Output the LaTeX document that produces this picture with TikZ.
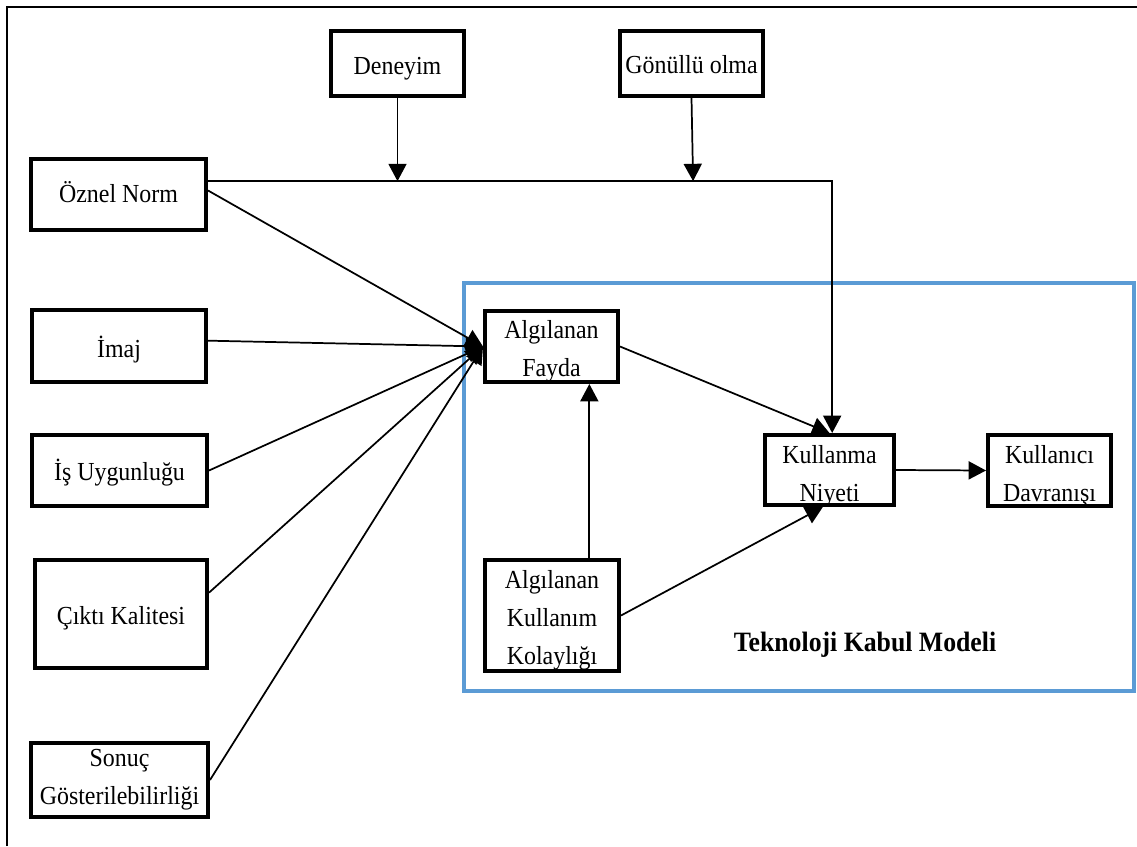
\documentclass[tikz,border=0pt]{standalone}
\usepackage{fontspec}
\setmainfont{Liberation Serif}[FakeStretch=0.92]
\usetikzlibrary{arrows.meta,calc}
\definecolor{tkmblue}{HTML}{5B9BD5}
\begin{document}
\begin{tikzpicture}[x=0.75pt,y=-0.75pt,
  kutu/.style={draw, line width=3pt, inner sep=0pt},
  yazi/.style={inner sep=0pt, align=center, font=\fontsize{19.5}{28.5}\selectfont},
  tekyazi/.style={yazi, text height=18pt, text depth=3.5pt},
  arr/.style={line width=1.3pt, -{Triangle[length=13pt,width=13.5pt]}}]
\useasboundingbox (0,0) rectangle (1137,846);

% outer frame (left and top edges)
\draw[line width=1.5pt] (7,846) -- (7,7) -- (1137,7);

% Technology Acceptance Model frame
\draw[tkmblue, line width=3pt] (464,283) rectangle (1134,691);
\node[font=\fontsize{21}{24}\selectfont\bfseries] (tkm) at (865,645) {Teknoloji Kabul Modeli};

% moderators
\node[kutu, minimum width=99.75pt, minimum height=48.75pt,
  label={[tekyazi, yshift=-1pt]center:Deneyim}] (deneyim) at (397.5,63.5) {};
\node[kutu, minimum width=107.25pt, minimum height=48.75pt,
  label={[tekyazi]center:Gönüllü olma}] (gonullu) at (691.5,63.5) {};

% external variables
\node[kutu, minimum width=131.25pt, minimum height=53.25pt,
  label={[tekyazi, yshift=1pt]center:Öznel Norm}] (oznel) at (118.5,194.5) {};
\node[kutu, minimum width=130.5pt, minimum height=54pt,
  label={[tekyazi, yshift=-1.5pt]center:İmaj}] (imaj) at (119,346) {};
\node[kutu, minimum width=131.25pt, minimum height=53.25pt,
  label={[tekyazi]center:İş Uygunluğu}] (is) at (119.5,470.5) {};
\node[kutu, minimum width=129pt, minimum height=81pt,
  label={[tekyazi, yshift=-0.75pt]center:Çıktı Kalitesi}] (cikti) at (121,614) {};
\node[kutu, minimum width=132.75pt, minimum height=55.5pt,
  label={[yazi]center:{Sonuç\\Gösterilebilirliği}}] (sonuc) at (119.5,780) {};

% TAM constructs
\node[kutu, minimum width=99.75pt, minimum height=53.25pt,
  label={[yazi, yshift=-3.5pt]center:{Algılanan\\Fayda}}] (fayda) at (551.5,346.5) {};
\node[kutu, minimum width=100.5pt, minimum height=83.25pt,
  label={[yazi, yshift=-3.5pt]center:{Algılanan\\Kullanım\\Kolaylığı}}] (kolay) at (552,615.5) {};
\node[kutu, minimum width=96.75pt, minimum height=52.5pt,
  label={[yazi, yshift=-4.5pt]center:{Kullanma\\Niyeti}}] (niyet) at (829.5,470) {};
\node[kutu, minimum width=92.25pt, minimum height=53.25pt,
  label={[yazi, yshift=-4.5pt]center:{Kullanıcı\\Davranışı}}] (davranis) at (1049.5,470.5) {};

% subjective norm -> intention, moderated by experience and voluntariness
\coordinate (hl) at ([yshift=10pt]oznel.east);
\draw[arr] (hl) -| ([xshift=2pt]niyet.north);
\draw[arr] (deneyim.south) -- (deneyim.south |- hl);
\draw[arr] (gonullu.south) -- ([xshift=1.2pt]gonullu.south |- hl);

% determinants of perceived usefulness
\draw[arr] ([yshift=3pt]oznel.east) -- (fayda.west);
\draw[arr] ([yshift=4pt]imaj.east) -- (fayda.west);
\draw[arr] (is.east) -- (fayda.west);
\draw[arr] ([yshift=16pt]cikti.east) -- (fayda.west);
\draw[arr] (sonuc.east) -- (fayda.west);

% TAM core relations
\draw[arr] ([xshift=28pt]kolay.north) -- ([xshift=28pt]kolay.north |- fayda.south);
\draw[arr] (fayda.east) -- (niyet.north);
\draw[arr] (kolay.east) -- ([xshift=-5pt]niyet.south);
\draw[arr] (niyet.east) -- (davranis.west);
\end{tikzpicture}
\end{document}
